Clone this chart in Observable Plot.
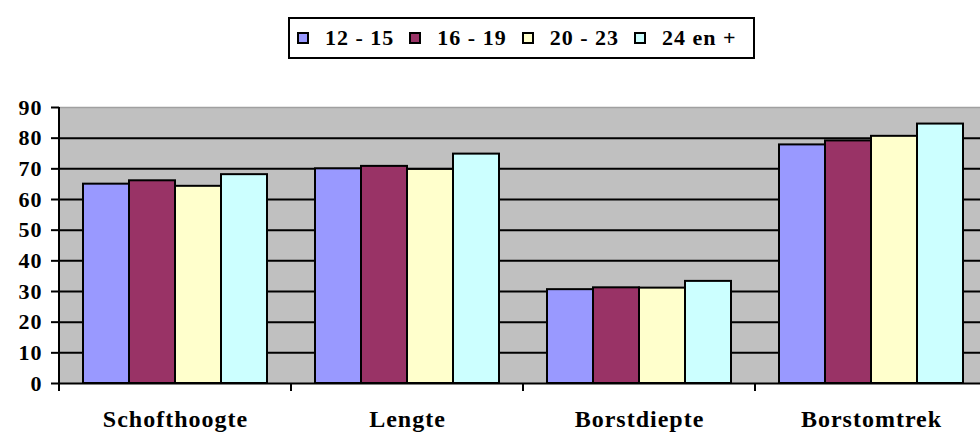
<!DOCTYPE html>
<html>
<head>
<meta charset="utf-8">
<script src="https://cdn.jsdelivr.net/npm/d3@7"></script>
<script src="https://cdn.jsdelivr.net/npm/@observablehq/plot@0.6"></script>
<style>
  html, body { margin: 0; padding: 0; background: white; overflow: hidden; }
  #page { position: relative; width: 980px; height: 433px; overflow: hidden; background: white; }
  #legendArea { position: relative; height: 75px; }
  #legend {
    position: absolute; left: 288px; top: 17px; width: 467px; height: 42px;
    box-sizing: border-box; border: 2px solid black; background: white;
    display: flex; align-items: center; padding-left: 7px;
    font-family: "Liberation Serif", "Times New Roman", serif;
    font-weight: bold; font-size: 22px; letter-spacing: 1px; color: black;
  }
  .item { display: flex; align-items: center; margin-right: 15px; }
  .sw { width: 12px; height: 12px; box-sizing: border-box; border: 2px solid black; margin-right: 16px; }
  #chart svg text { letter-spacing: 1px; font-family: "Liberation Serif", "Times New Roman", serif; }
</style>
</head>
<body>
<div id="page">
  <div id="legendArea"><div id="legend"></div></div>
  <div id="chart"></div>
</div>
<script>
// ---- data ----
const categories = ["Schofthoogte", "Lengte", "Borstdiepte", "Borstomtrek"];
const series = ["12 - 15", "16 - 19", "20 - 23", "24 en +"];
const values12_15 = [65, 70, 30.6, 77.8];
const values16_19 = [66.1, 70.8, 31.2, 79.1];
const values20_23 = [64.3, 69.8, 31.1, 80.6];
const values24plus = [68.1, 74.8, 33.3, 84.6];
const colors = ["#9999ff", "#993366", "#ffffcc", "#ccffff"];
const yTicks = [0, 10, 20, 30, 40, 50, 60, 70, 80, 90];
const gridLines = [10, 20, 30, 40, 50, 60, 70, 80];
const yMax = 90;

const seriesValues = [values12_15, values16_19, values20_23, values24plus];
const table = [];
categories.forEach((c, i) => {
  series.forEach((s, j) => table.push({category: c, series: s, value: seriesValues[j][i]}));
});

// ---- legend ----
const legend = document.getElementById("legend");
series.forEach((s, j) => {
  const item = document.createElement("div");
  item.className = "item";
  const sw = document.createElement("div");
  sw.className = "sw";
  sw.style.background = colors[j];
  const t = document.createElement("span");
  t.textContent = s;
  item.appendChild(sw); item.appendChild(t);
  legend.appendChild(item);
});

// ---- chart ----
const chart = Plot.plot({
  width: 988,
  height: 358,
  marginLeft: 57,
  marginRight: 0,
  marginTop: 32,
  marginBottom: 50,
  style: {
    fontFamily: "'Liberation Serif', 'Times New Roman', serif",
    fontWeight: "bold",
    fontSize: "22px",
    color: "black",
    background: "white",
    maxWidth: "none",
    overflow: "visible"
  },
  fx: {domain: categories, padding: 0, label: null},
  x: {domain: series, paddingInner: 0, paddingOuter: 0.5, axis: null},
  y: {domain: [0, yMax], label: null},
  color: {domain: series, range: colors},
  marks: [
    Plot.frame({fill: "#c0c0c0", stroke: "none", insetLeft: -0.5, insetRight: -0.5}),
    Plot.ruleY(gridLines, {stroke: "black", strokeWidth: 2}),
    Plot.ruleY([yMax], {stroke: "#a0a0a0", strokeWidth: 1.5}),
    Plot.barY(table, {fx: "category", x: "series", y: "value", fill: "series", stroke: "black", strokeWidth: 2}),
    Plot.ruleY([0], {stroke: "black", strokeWidth: 2}),
    Plot.axisY({ticks: yTicks, tickSize: 8, tickPadding: 9, strokeWidth: 2, label: null, fontSize: 22}),
    Plot.axisFx({anchor: "bottom", tickSize: 0, tickPadding: 26, label: null, fontSize: 24})
  ]
});
document.getElementById("chart").appendChild(chart);

// boundary ticks and left axis line, placed with the plot's own scales
const fxs = chart.scale("fx");
const ys = chart.scale("y");
const bw = fxs.bandwidth;
const y0 = ys.apply(0);
const yTop = ys.apply(yMax);
const bounds = categories.map(c => fxs.apply(c)).concat([fxs.apply(categories[categories.length - 1]) + bw]);
const svg = d3.select(chart);
const g = svg.append("g").attr("stroke", "black").attr("stroke-width", 2);
bounds.forEach(b => {
  g.append("line").attr("x1", b).attr("x2", b).attr("y1", y0).attr("y2", y0 + 8);
});
g.append("line").attr("x1", bounds[0]).attr("x2", bounds[0]).attr("y1", yTop).attr("y2", y0 + 8);
</script>
</body>
</html>
